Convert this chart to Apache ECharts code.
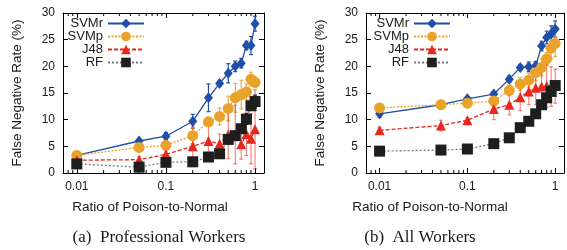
<!DOCTYPE html>
<html>
<head>
<meta charset="utf-8">
<script src="https://cdn.jsdelivr.net/npm/echarts@6/dist/echarts.min.js"></script>
<style>
html,body{margin:0;padding:0;background:#fff;}
#c{width:567px;height:250px;}
</style>
</head>
<body>
<div id="c"></div>
<script>
const xValues = [0.01, 0.05, 0.1, 0.2, 0.3, 0.4, 0.5, 0.6, 0.7, 0.8, 0.9, 1.0];
const xTickLabels = ['0.01', '0.1', '1'];
const xTickValues = [0.01, 0.1, 1];
const minorTicks = [0.008, 0.009, 0.02, 0.03, 0.04, 0.05, 0.06, 0.07, 0.08, 0.09, 0.2, 0.3, 0.4, 0.5, 0.6, 0.7, 0.8, 0.9];
const seriesNames = ['SVMr', 'SVMp', 'J48', 'RF'];

// Panel (a) Professional Workers
const aSVMr = [3.3, 6.0, 6.9, 9.7, 14.1, 16.8, 18.7, 20.0, 20.6, 23.9, 23.9, 28.0];
const aSVMrErr = [0.3, 0.5, 0.7, 1.3, 2.6, 0.5, 1.8, 1.0, 0.9, 0.8, 1.7, 1.4];
const aSVMp = [3.3, 4.8, 5.2, 7.0, 9.6, 10.6, 12.1, 14.1, 14.7, 15.2, 17.6, 17.0];
const aSVMpErr = [0.3, 0.5, 0.5, 1.5, 0.8, 1.6, 2.3, 2.7, 2.7, 1.5, 1.3, 1.0];
const aJ48 = [2.4, 2.5, 3.5, 5.0, 6.0, 5.5, 7.2, 7.2, 5.4, 7.3, 6.4, 8.2];
const aJ48Err = [0.4, 0.6, 0.6, 3.8, 3.8, 1.8, 4.5, 5.5, 2.8, 4.0, 4.7, 7.4];
const aRF = [1.7, 1.1, 2.0, 2.1, 3.0, 3.6, 6.3, 7.0, 8.3, 10.1, 12.6, 13.4];
const aRFErr = [0.5, 0.3, 0.3, 0.3, 0.6, 0.8, 0.8, 0.8, 0.8, 1.0, 0.8, 1.2];

// Panel (b) All Workers
const bSVMr = [11.1, 12.8, 13.9, 14.8, 17.6, 19.8, 19.9, 20.1, 23.8, 25.4, 26.1, 27.0];
const bSVMrErr = [0.7, 0.5, 0.4, 0.4, 0.6, 0.5, 0.9, 0.8, 0.9, 1.2, 1.5, 1.5];
const bSVMp = [12.2, 12.8, 13.1, 13.5, 15.5, 16.7, 17.4, 18.8, 19.8, 21.4, 23.4, 24.3];
const bSVMpErr = [0.5, 0.8, 0.6, 1.0, 1.0, 1.2, 1.3, 1.5, 1.6, 1.2, 2.0, 2.5];
const bJ48 = [8.0, 8.9, 9.9, 12.0, 12.8, 14.2, 15.3, 16.0, 16.2, 16.3, 16.2, 16.3];
const bJ48Err = [0.6, 1.0, 0.5, 2.0, 1.9, 2.5, 2.5, 3.2, 3.0, 4.0, 3.7, 3.2];
const bRF = [4.1, 4.3, 4.5, 5.5, 6.6, 8.5, 9.7, 11.1, 12.8, 14.1, 15.3, 16.4];
const bRFErr = [0.3, 0.3, 0.3, 0.3, 0.3, 0.4, 0.4, 0.4, 0.4, 0.4, 0.5, 0.5];

const captions = ['(a)  Professional Workers', '(b)  All Workers'];
const xTitle = 'Ratio of Poison-to-Normal';
const yTitle = 'False Negative Rate (%)';

const SANS = '"Liberation Sans", Arial, Helvetica, sans-serif';
const SERIF = '"Liberation Serif", "Times New Roman", serif';
const TXT = '#1a1a1a';

const styles = {
  SVMr: {color: '#1f4fa8', lineColor: '#1f4fa8', type: 'solid', symbol: 'diamond', size: [9, 11], err: '#1f4fa8'},
  SVMp: {color: '#e9a22a', lineColor: '#e9a22a', type: [2, 1.5], symbol: 'circle', size: 11, err: 'rgba(233,162,42,0.9)'},
  J48:  {color: '#e8281c', lineColor: '#e8281c', type: [4, 2], symbol: 'triangle', size: 10, err: 'rgba(232,40,28,0.55)'},
  RF:   {color: '#1e1e1e', lineColor: '#7a7a7a', type: [2, 2], symbol: 'rect', size: 11, err: '#1e1e1e'}
};

const panels = [
  {vals: {SVMr: aSVMr, SVMp: aSVMp, J48: aJ48, RF: aRF}, errs: {SVMr: aSVMrErr, SVMp: aSVMpErr, J48: aJ48Err, RF: aRFErr}},
  {vals: {SVMr: bSVMr, SVMp: bSVMp, J48: bJ48, RF: bRF}, errs: {SVMr: bSVMrErr, SVMp: bSVMpErr, J48: bJ48Err, RF: bRFErr}}
];

function xAxisDef(grid, pos) {
  return {
    type: 'log', logBase: 10, gridIndex: grid, position: pos, min: 0.007, max: 1.26,
    axisLine: {show: true, onZero: false, lineStyle: {color: '#000', width: 1}},
    axisTick: {show: true, inside: true, length: 5, lineStyle: {color: '#000'}},
    axisLabel: {
      show: pos === 'bottom', margin: 8, fontSize: 12, fontFamily: SANS, color: TXT,
      formatter: function (v) {
        for (let i = 0; i < xTickValues.length; i++) {
          if (Math.abs(v - xTickValues[i]) < 1e-9) return xTickLabels[i];
        }
        return '';
      }
    },
    splitLine: {show: false}
  };
}
function yAxisDef(grid, pos) {
  return {
    type: 'value', gridIndex: grid, position: pos, min: 0, max: 30, interval: 5,
    axisLine: {show: true, onZero: false, lineStyle: {color: '#000', width: 1}},
    axisTick: {show: true, inside: true, length: 5, lineStyle: {color: '#000'}},
    axisLabel: {show: pos === 'left', margin: 8, fontSize: 12, fontFamily: SANS, color: TXT},
    splitLine: {show: false},
    name: pos === 'left' ? yTitle : '',
    nameLocation: 'middle', nameGap: 39, nameRotate: 90,
    nameTextStyle: {fontSize: 13.5, fontFamily: SANS, color: TXT}
  };
}

const xAxis = [xAxisDef(0, 'bottom'), xAxisDef(0, 'top'), xAxisDef(1, 'bottom'), xAxisDef(1, 'top')];
const yAxis = [yAxisDef(0, 'left'), yAxisDef(0, 'right'), yAxisDef(1, 'left'), yAxisDef(1, 'right')];

const series = [];
panels.forEach(function (p, pi) {
  const xi = pi * 2, yi = pi * 2;
  series.push({
    type: 'custom', name: 'minor' + pi, xAxisIndex: xi, yAxisIndex: yi, silent: true, clip: false,
    data: minorTicks.map(function (v) { return [v, 0]; }),
    encode: {x: 0, y: 1},
    renderItem: function (params, api) {
      const v = api.value(0);
      const b = api.coord([v, 0]);
      const t = api.coord([v, 30]);
      const st = {stroke: '#000', lineWidth: 1};
      return {type: 'group', children: [
        {type: 'line', shape: {x1: b[0], y1: b[1], x2: b[0], y2: b[1] - 3}, style: st},
        {type: 'line', shape: {x1: t[0], y1: t[1], x2: t[0], y2: t[1] + 3}, style: st}
      ]};
    }
  });
  seriesNames.forEach(function (name) {
    const s = styles[name];
    const vals = p.vals[name], errs = p.errs[name];
    series.push({
      type: 'custom', name: 'err' + name + pi, xAxisIndex: xi, yAxisIndex: yi, silent: true,
      data: xValues.map(function (x, i) { return [x, vals[i], errs[i]]; }),
      encode: {x: 0, y: 1},
      renderItem: function (params, api) {
        const x = api.value(0), y = api.value(1), e = api.value(2);
        const top = api.coord([x, y + e]);
        const bot = api.coord([x, y - e]);
        const st = {stroke: s.err, lineWidth: 1.2};
        return {type: 'group', children: [
          {type: 'line', shape: {x1: top[0], y1: top[1], x2: bot[0], y2: bot[1]}, style: st},
          {type: 'line', shape: {x1: top[0] - 2, y1: top[1], x2: top[0] + 2, y2: top[1]}, style: st},
          {type: 'line', shape: {x1: bot[0] - 2, y1: bot[1], x2: bot[0] + 2, y2: bot[1]}, style: st}
        ]};
      }
    });
    series.push({
      type: 'line', name: name, xAxisIndex: xi, yAxisIndex: yi,
      data: xValues.map(function (x, i) { return [x, vals[i]]; }),
      symbol: s.symbol, symbolSize: s.size, showSymbol: true,
      itemStyle: {color: s.color},
      lineStyle: {color: s.lineColor, width: 1.3, type: s.type},
      emphasis: {disabled: true}
    });
  });
});

function legendDef(right) {
  return {
    data: seriesNames, orient: 'vertical', align: 'right', right: right, top: 17,
    padding: 0, itemGap: 0, itemWidth: 36, itemHeight: 12,
    textStyle: {fontSize: 13, fontFamily: SANS, color: TXT, lineHeight: 13},
    selectedMode: false
  };
}

const option = {
  animation: false,
  backgroundColor: '#fff',
  grid: [
    {left: 63, top: 13, width: 201, height: 160, containLabel: false},
    {left: 366, top: 13, width: 202, height: 160, containLabel: false}
  ],
  xAxis: xAxis,
  yAxis: yAxis,
  legend: [legendDef(567 - 145), legendDef(567 - 451)],
  series: series,
  graphic: [
    {type: 'text', x: 150, y: 207, style: {text: xTitle, font: '13.5px ' + SANS, fill: TXT, textAlign: 'center', textVerticalAlign: 'middle'}},
    {type: 'text', x: 430, y: 207, style: {text: xTitle, font: '13.5px ' + SANS, fill: TXT, textAlign: 'center', textVerticalAlign: 'middle'}},
    {type: 'text', x: 159, y: 238, style: {text: captions[0], font: '17px ' + SERIF, fill: TXT, textAlign: 'center', textVerticalAlign: 'middle'}},
    {type: 'text', x: 420, y: 238, style: {text: captions[1], font: '17px ' + SERIF, fill: TXT, textAlign: 'center', textVerticalAlign: 'middle'}}
  ]
};

const chart = echarts.init(document.getElementById('c'), null, {renderer: 'canvas'});
chart.setOption(option);
</script>
</body>
</html>
